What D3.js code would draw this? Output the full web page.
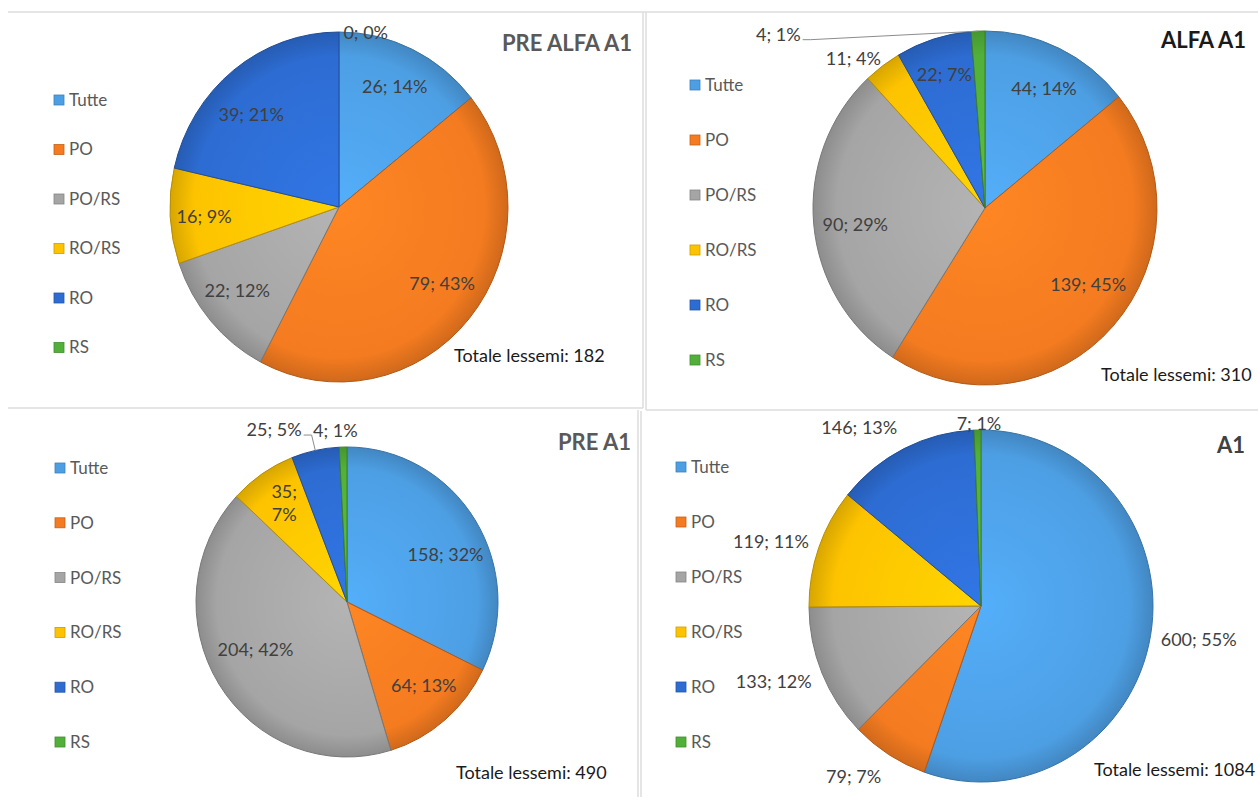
<!DOCTYPE html>
<html>
<head>
<meta charset="utf-8">
<script src="https://cdn.jsdelivr.net/npm/d3@7"></script>
<style>
  body { margin: 0; background: #fff; }
  text { font-family: Lato, "Open Sans", sans-serif; }
</style>
</head>
<body>
<svg id="chart" width="1258" height="797"></svg>
<script>
// categories and colours shared by the four pies
const categories = ["Tutte", "PO", "PO/RS", "RO/RS", "RO", "RS"];
const colors = ["#4d9fe4", "#f47b20", "#a5a5a5", "#fdc300", "#2d6cd2", "#52b03a"];
const titles = ["PRE ALFA A1", "ALFA A1", "PRE A1", "A1"];

// number of lexemes per category
const valuesPreAlfaA1 = [26, 79, 22, 16, 39, 0];
const valuesAlfaA1 = [44, 139, 90, 11, 22, 4];
const valuesPreA1 = [158, 64, 204, 35, 25, 4];
const valuesA1 = [600, 79, 133, 119, 146, 7];

// layout of each panel (label k = radial factor, nudge = degrees)
const panels = [
  { title: titles[0], values: valuesPreAlfaA1, cx: 339, cy: 207, rx: 169, ry: 175,
    titleX: 632, titleY: 43, titleColor: "#595959",
    legendX: 54, legendY: 100, legendStep: 49.5, totalX: 454, totalY: 356,
    labelK: [0.76, 0.75, 0.77, 0.80, 0.74, 1.01], nudge: [0, -4, 2, -1, -6, 9],
    leader: -1, wrap: -1 },
  { title: titles[1], values: valuesAlfaA1, cx: 985, cy: 208, rx: 172, ry: 177,
    titleX: 1246, titleY: 40, titleColor: "#1a1a1a",
    legendX: 690, legendY: 85, legendStep: 55, totalX: 1101, totalY: 375,
    labelK: [0.755, 0.74, 0.76, 1.14, 0.79, 1.55], nudge: [1.5, -6, -2, -5.6, 0, -48.5],
    leader: 5, wrap: -1 },
  { title: titles[2], values: valuesPreA1, cx: 347, cy: 602, rx: 151, ry: 155,
    titleX: 631, titleY: 442, titleColor: "#595959",
    legendX: 55, legendY: 468, legendStep: 54.8, totalX: 456, totalY: 773,
    labelK: [0.72, 0.74, 0.68, 0.76, 1.21, 1.11], nudge: [7, -3, 5, 1, -11.4, -2.5],
    leader: 4, wrap: 3 },
  { title: titles[3], values: valuesA1, cx: 981, cy: 606, rx: 172, ry: 176,
    titleX: 1245, titleY: 445, titleColor: "#404040",
    legendX: 676, legendY: 467, legendStep: 55, totalX: 1094, totalY: 770,
    labelK: [1.28, 1.22, 1.28, 1.275, 1.235, 1.034], nudge: [-1, 5, 2.7, -2.7, -8.4, 0.5],
    leader: -1, wrap: -1 }
];

const svg = d3.select("#chart");
const defs = svg.append("defs");

// light frame lines between the four screenshots
const frame = [
  [8, 12, 1258, 12], [643, 12, 643, 408], [8, 408, 643, 408],
  [646, 12, 646, 410], [646, 410, 1258, 410],
  [638, 410, 638, 797], [641, 411, 641, 797]
];
svg.selectAll(".frame").data(frame).enter().append("line")
  .attr("class", "frame")
  .attr("x1", d => d[0]).attr("y1", d => d[1])
  .attr("x2", d => d[2]).attr("y2", d => d[3])
  .attr("stroke", "#dcdcdc").attr("stroke-width", 1.5);

const pie = d3.pie().sort(null).value(d => d.value);

panels.forEach((p, pi) => {
  const data = p.values.map((v, i) => ({ name: categories[i], value: v, color: colors[i] }));
  const total = d3.sum(p.values);
  const arcs = pie(data);
  const arc = d3.arc().innerRadius(0).outerRadius(p.rx);

  // gradients give a bit of the bevelled look
  colors.forEach((c, i) => {
    const g = defs.append("radialGradient")
      .attr("id", `g${pi}_${i}`)
      .attr("gradientUnits", "userSpaceOnUse")
      .attr("cx", 0).attr("cy", 0).attr("r", p.rx);
    g.append("stop").attr("offset", "0%").attr("stop-color", d3.color(c).brighter(0.25));
    g.append("stop").attr("offset", "86%").attr("stop-color", c);
    g.append("stop").attr("offset", "100%").attr("stop-color", d3.color(c).darker(0.45));
  });

  const pieG = svg.append("g")
    .attr("transform", `translate(${p.cx},${p.cy}) scale(1,${p.ry / p.rx})`);

  pieG.selectAll("path")
    .data(arcs.filter(a => a.data.value > 0))
    .enter().append("path")
    .attr("d", arc)
    .attr("fill", d => `url(#g${pi}_${d.index})`)
    .attr("stroke", d => d3.color(d.data.color).darker(0.9))
    .attr("stroke-width", 1)
    .attr("vector-effect", "non-scaling-stroke");

  // data labels "value; percent"
  const pos = (a, k) => [p.cx + k * p.rx * Math.sin(a), p.cy - k * p.ry * Math.cos(a)];
  arcs.forEach((a, i) => {
    const mid = (a.startAngle + a.endAngle) / 2 + p.nudge[i] * Math.PI / 180;
    const [x, y] = pos(mid, p.labelK[i]);
    const pct = Math.round(a.data.value / total * 100) + "%";
    const t = svg.append("text")
      .attr("x", x).attr("y", y)
      .attr("text-anchor", "middle")
      .attr("font-size", 18)
      .attr("fill", "#404040");
    if (i === p.wrap) {
      t.append("tspan").attr("x", x).attr("dy", "-0.3em").text(a.data.value + ";");
      t.append("tspan").attr("x", x).attr("dy", "1.3em").text(pct);
    } else {
      t.attr("dy", "0.35em").text(a.data.value + "; " + pct);
    }
    if (i === p.leader) {
      const w = t.node().getComputedTextLength();
      const end = pos((a.startAngle + a.endAngle) / 2, 1);
      const sx = x + w / 2 + 2, sy = y + 5;
      svg.append("polyline")
        .attr("points", [[sx, sy], [sx + 8, sy], end].map(q => q.join(",")).join(" "))
        .attr("fill", "none")
        .attr("stroke", "#8c8c8c")
        .attr("stroke-width", 1);
    }
  });

  // legend
  const leg = svg.append("g");
  categories.forEach((c, i) => {
    const y = p.legendY + i * p.legendStep;
    leg.append("rect")
      .attr("x", p.legendX).attr("y", y - 5)
      .attr("width", 10).attr("height", 10)
      .attr("fill", colors[i])
      .attr("stroke", d3.color(colors[i]).darker(0.6))
      .attr("stroke-width", 0.8);
    leg.append("text")
      .attr("x", p.legendX + 15).attr("y", y)
      .attr("dy", "0.35em")
      .attr("font-size", 17)
      .attr("fill", "#595959")
      .text(c);
  });

  // title and total
  svg.append("text")
    .attr("x", p.titleX).attr("y", p.titleY)
    .attr("dy", "0.35em")
    .attr("text-anchor", "end")
    .attr("font-size", 22)
    .attr("font-weight", "bold")
    .attr("fill", p.titleColor)
    .text(p.title);

  svg.append("text")
    .attr("x", p.totalX).attr("y", p.totalY)
    .attr("dy", "0.35em")
    .attr("font-size", 18)
    .attr("fill", "#1a1a1a")
    .text("Totale lessemi: " + total);
});
</script>
</body>
</html>
